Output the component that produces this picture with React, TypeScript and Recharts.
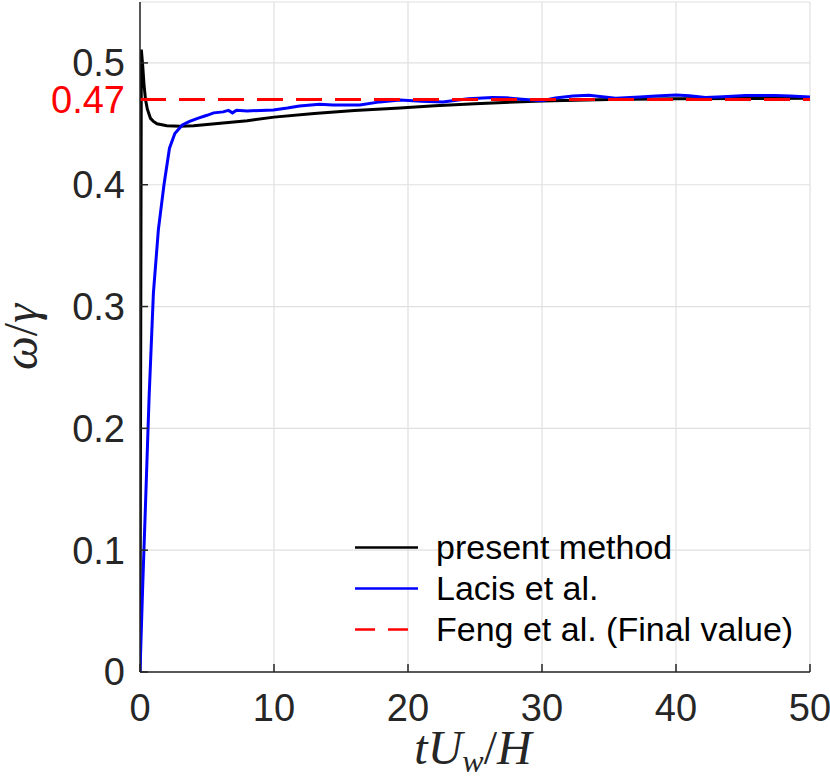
import { LineChart, Line, XAxis, YAxis, CartesianGrid, ReferenceLine, Legend } from "recharts"

// present method (black)
const presentT = [0, 0.1, 0.2, 0.3, 0.41, 0.55, 0.78, 1.0, 1.27, 2.0, 3.0, 4, 6, 8, 10, 13, 16, 19.4, 22, 25, 30, 35, 40, 45, 50]
const presentOmega = [0, 0.511, 0.498, 0.482, 0.47, 0.462, 0.4545, 0.452, 0.45, 0.4485, 0.448, 0.4485, 0.4505, 0.4525, 0.4555, 0.4585, 0.461, 0.463, 0.4648, 0.4665, 0.4688, 0.47, 0.4705, 0.4708, 0.471]

// Lacis et al. (blue)
const lacisT = [0, 0.2, 0.4, 0.68, 1.0, 1.37, 1.79, 2.2, 2.6, 3.16, 3.7, 4.3, 5.0, 5.5, 6.2, 6.6, 6.9, 7.2, 8, 9, 9.95, 11, 11.9, 13.4, 14.4, 16.4, 17.9, 19.4, 21, 22.6, 24.5, 26.3, 27.3, 28.5, 30, 31, 32.3, 33.5, 35.5, 37.3, 38.5, 40, 41, 42.2, 43.5, 45.2, 47.4, 48.5, 50]
const lacisOmega = [0, 0.07, 0.134, 0.226, 0.311, 0.363, 0.4, 0.43, 0.442, 0.449, 0.452, 0.4545, 0.457, 0.459, 0.4598, 0.461, 0.459, 0.4612, 0.4606, 0.461, 0.4614, 0.463, 0.4647, 0.466, 0.4655, 0.4655, 0.468, 0.4696, 0.4685, 0.468, 0.4705, 0.4716, 0.4714, 0.4702, 0.469, 0.4712, 0.4729, 0.4735, 0.471, 0.4721, 0.4728, 0.4737, 0.473, 0.4716, 0.4722, 0.4733, 0.4733, 0.4728, 0.472]

// Feng et al. final value (red dashed)
const fengFinal = 0.47

const xTicks = [0, 10, 20, 30, 40, 50]
const yTicks = [0, 0.1, 0.2, 0.3, 0.4, 0.5]

const presentData = presentT.map((t, i) => ({ t, w: presentOmega[i] }))
const lacisData = lacisT.map((t, i) => ({ t, w: lacisOmega[i] }))

const AXIS = "#262626"
const FONT = "'Liberation Sans', Arial, sans-serif"
const SERIF = "'Liberation Serif', 'DejaVu Serif', serif"

const legendItems = [
  { label: "present method", color: "#000000", dash: undefined },
  { label: "Lacis et al.", color: "#0000ff", dash: undefined },
  { label: "Feng et al. (Final value)", color: "#ff0000", dash: "20 13" },
]

function LegendBox() {
  return (
    <div style={{ fontFamily: FONT }}>
      {legendItems.map((it) => (
        <div key={it.label} style={{ display: "flex", alignItems: "center", height: 41 }}>
          <svg width={63} height={41} style={{ display: "block" }}>
            <line x1={0} x2={63} y1={20.5} y2={20.5} stroke={it.color} strokeWidth={2.5} strokeDasharray={it.dash} />
          </svg>
          <span style={{ marginLeft: 18, fontSize: 34, lineHeight: "41px", color: "#000", whiteSpace: "nowrap" }}>{it.label}</span>
        </div>
      ))}
    </div>
  )
}

export default function App() {
  return (
    <div style={{ position: "absolute", left: 0, top: 0, fontFamily: FONT }}>
      <LineChart width={830} height={776} margin={{ top: 2, right: 20, bottom: 0, left: 0 }}>
        <CartesianGrid stroke="#e0e0e0" strokeWidth={1.2} />
        <XAxis
          dataKey="t"
          type="number"
          domain={[0, 50]}
          ticks={xTicks}
          allowDataOverflow
          height={104}
          stroke={AXIS}
          strokeWidth={1.5}
          tickSize={-8}
          tickMargin={30}
          tick={{ fill: AXIS, fontSize: 38, fontFamily: FONT }}
          label={{
            content: () => (
              <text x={473} y={764} textAnchor="middle" fill={AXIS} fontFamily={SERIF} fontSize={48} fontStyle="italic">
                tU
                <tspan fontSize={32} dy={8}>w</tspan>
                <tspan dy={-8} fontStyle="normal">/</tspan>
                H
              </text>
            ),
          }}
        />
        <XAxis
          xAxisId="top"
          orientation="top"
          type="number"
          domain={[0, 50]}
          ticks={xTicks}
          height={0}
          stroke={AXIS}
          strokeWidth={1.5}
          tickSize={-8}
          tickFormatter={() => ""}
        />
        <YAxis
          type="number"
          domain={[0, 0.55]}
          ticks={yTicks}
          allowDataOverflow
          width={140}
          stroke={AXIS}
          strokeWidth={1.5}
          tickSize={-8}
          tickMargin={23}
          tick={{ fill: AXIS, fontSize: 38, fontFamily: FONT }}
          label={{
            content: () => (
              <text x={37} y={337} transform="rotate(-90 37 337)" textAnchor="middle" fill={AXIS} fontFamily={SERIF} fontSize={48} fontStyle="italic">
                ω<tspan fontStyle="normal">/</tspan>γ
              </text>
            ),
          }}
        />
        <YAxis
          yAxisId="right"
          orientation="right"
          type="number"
          domain={[0, 0.55]}
          ticks={yTicks}
          width={0}
          stroke={AXIS}
          strokeWidth={1.5}
          tickSize={-8}
          tickFormatter={() => ""}
        />
        <Line data={presentData} dataKey="w" type="linear" stroke="#000000" strokeWidth={3} dot={false} isAnimationActive={false} />
        <Line data={lacisData} dataKey="w" type="linear" stroke="#0000ff" strokeWidth={3} dot={false} isAnimationActive={false} />
        <ReferenceLine
          y={fengFinal}
          stroke="#ff0000"
          strokeWidth={3}
          strokeDasharray="26 13"
          label={{ value: "0.47", position: "left", offset: 15, fill: "#ff0000", fontSize: 38, fontFamily: FONT }}
        />
        <Legend
          layout="vertical"
          align="center"
          verticalAlign="middle"
          content={() => <LegendBox />}
          wrapperStyle={{ position: "absolute", left: 355, top: 527, width: "auto" }}
        />
      </LineChart>
    </div>
  )
}
